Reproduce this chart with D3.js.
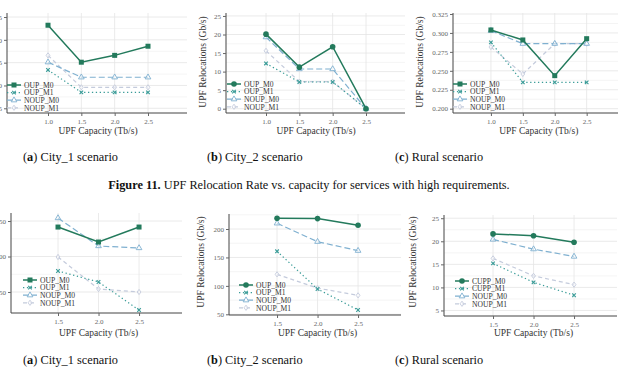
<!DOCTYPE html>
<html>
<head>
<meta charset="utf-8">
<title>UPF Relocation Rate vs. capacity</title>
<script src="https://d3js.org/d3.v7.min.js"></script>
<style>
  body { margin: 0; background: #fff; }
  svg { display: block; }
  text { font-family: "Liberation Serif", "DejaVu Serif", serif; }
  .tick-label { font-size: 7px; fill: #666; }
  .axis-title { font-size: 9.5px; fill: #333; }
  .legend-text { font-size: 7.6px; fill: #333; }
  .caption { font-size: 12.3px; fill: #111; }
</style>
</head>
<body>
<div id="chart"></div>
<script>
// ---- data ----
const capHigh = [1.0, 1.5, 2.0, 2.5];
const capLow = [1.5, 2.0, 2.5];
const namesOUP = ["OUP_M0", "OUP_M1", "NOUP_M0", "NOUP_M1"];
const namesCUPP = ["CUPP_M0", "CUPP_M1", "NOUP_M0", "NOUP_M1"];

// rows: M0 (OUP/CUPP), M1 (OUP/CUPP), NOUP_M0, NOUP_M1
const city1High = [[23.2, 15.1, 16.6, 18.6], [13.4, 8.5, 8.5, 8.5], [15.1, 11.8, 11.8, 11.8], [16.6, 9.6, 9.6, 9.6]];
const city2High = [[20.1, 11.2, 16.7, 0], [12.2, 7.2, 7.2, 0], [19.3, 10.7, 10.7, 0], [15.6, 7.3, 7.3, 0]];
const ruralHigh = [[0.3039, 0.2907, 0.2436, 0.2924], [0.2876, 0.2348, 0.2348, 0.2348], [0.303, 0.2858, 0.2858, 0.2858], [0.2814, 0.2458, 0.2858, 0.2858]];
const city1Low = [[141.5, 120.4, 141.5], [79.6, 64.1, 24.6], [154.2, 114.8, 112], [99.3, 54.2, 50]];
const city2Low = [[218.8, 218.3, 206.5], [160.8, 94.5, 57.6], [210, 177.7, 161.9], [120.3, 96, 83.4]];
const ruralLow = [[21.6, 21.2, 19.8], [15.2, 11.1, 8.3], [20.4, 18.3, 16.7], [16.3, 12.5, 10.6]];

const xTicksHigh = [1.0, 1.5, 2.0, 2.5];
const xTicksLow = [1.5, 2.0, 2.5];
const yTicksCity1High = [5, 10, 15, 20, 25];
const yTicksCity2High = [0, 5, 10, 15, 20, 25];
const yTicksRuralHigh = [0.200, 0.225, 0.250, 0.275, 0.300, 0.325];
const yTicksCity1Low = [50, 100, 150];
const yTicksCity2Low = [50, 100, 150, 200];
const yTicksRuralLow = [5, 10, 15, 20, 25];

const subCaptions = [["a", " City_1 scenario"], ["b", " City_2 scenario"], ["c", " Rural scenario"]];
const figCaption = ["Figure 11.", " UPF Relocation Rate vs. capacity for services with high requirements."];

// ---- styles ----
const colors = ["#237a5c", "#3a9c98", "#7fb0d0", "#c4cbdc"];
const dashes = [null, "1.3,2.6", "6,3", "4,3"];
const widths = [1.5, 1.2, 1.2, 1.2];

const W = 618, H = 376;
const svg = d3.select("#chart").append("svg").attr("width", W).attr("height", H);

const panels = [
  {data: city1High, names: namesOUP, xs: capHigh, xt: xTicksHigh, yt: yTicksCity1High, fmt: d3.format("d"),
   xr: [7, 187], xd: [0.385, 3.085], yr: [113, 13], yd: [3.97, 25.88], m0: "square",
   leg: [7, 85], ytitleX: -20, ytitleY: 62, xtitleY: 134},
  {data: city2High, names: namesOUP, xs: capHigh, xt: xTicksHigh, yt: yTicksCity2High, fmt: d3.format("d"),
   xr: [226, 405], xd: [0.4, 3.085], yr: [113, 13], yd: [-1.16, 25.8], m0: "circle",
   leg: [227, 84], ytitleX: 206, ytitleY: 62, xtitleY: 134},
  {data: ruralHigh, names: namesOUP, xs: capHigh, xt: xTicksHigh, yt: yTicksRuralHigh, fmt: d3.format(".3f"),
   xr: [453, 624], xd: [0.406, 3.085], yr: [113, 13], yd: [0.1943, 0.3263], m0: "square",
   leg: [453, 84], ytitleX: 423, ytitleY: 62, xtitleY: 134},
  {data: city1Low, names: namesOUP, xs: capLow, xt: xTicksLow, yt: yTicksCity1Low, fmt: d3.format("d"),
   xr: [11, 182], xd: [0.92, 3.03], yr: [313, 213], yd: [20.4, 161.3], m0: "square",
   leg: [23, 280], ytitleX: -20, ytitleY: 262, xtitleY: 336},
  {data: city2Low, names: namesOUP, xs: capLow, xt: xTicksLow, yt: yTicksCity2Low, fmt: d3.format("d"),
   xr: [229, 401], xd: [0.907, 3.03], yr: [315, 214], yd: [48.8, 226.4], m0: "circle",
   leg: [239, 285], ytitleX: 204, ytitleY: 262, xtitleY: 336},
  {data: ruralLow, names: namesCUPP, xs: capLow, xt: xTicksLow, yt: yTicksRuralLow, fmt: d3.format("d"),
   xr: [444, 617], xd: [0.895, 3.03], yr: [316, 215], yd: [3.8, 25.7], m0: "circle",
   leg: [455, 281], ytitleX: 416, ytitleY: 262, xtitleY: 336}
];

function drawMarker(g, type, cx, cy, color) {
  if (type === "square") {
    g.append("rect").attr("x", cx - 2.5).attr("y", cy - 2.5).attr("width", 5).attr("height", 5).attr("fill", color);
  } else if (type === "circle") {
    g.append("circle").attr("cx", cx).attr("cy", cy).attr("r", 2.8).attr("fill", color);
  } else if (type === "x") {
    g.append("path").attr("d", `M${cx - 1.8},${cy - 1.8}L${cx + 1.8},${cy + 1.8}M${cx - 1.8},${cy + 1.8}L${cx + 1.8},${cy - 1.8}`)
      .attr("stroke", color).attr("stroke-width", 1.1).attr("fill", "none");
  } else if (type === "triangle") {
    g.append("path").attr("d", d3.symbol(d3.symbolTriangle, 14)()).attr("transform", `translate(${cx},${cy})`)
      .attr("fill", "#fff").attr("fill-opacity", 0.5).attr("stroke", color).attr("stroke-width", 0.9);
  } else {
    g.append("path").attr("d", `M${cx},${cy - 2.6}L${cx + 1.9},${cy}L${cx},${cy + 2.6}L${cx - 1.9},${cy}Z`)
      .attr("fill", "#fff").attr("fill-opacity", 0.5).attr("stroke", color).attr("stroke-width", 0.9);
  }
}

panels.forEach(p => {
  const x = d3.scaleLinear().domain(p.xd).range(p.xr);
  const y = d3.scaleLinear().domain(p.yd).range(p.yr);
  const g = svg.append("g");
  const step = p.yt[1] - p.yt[0];

  // minor grid
  p.yt.forEach(t => {
    const v = t + step / 2;
    if (v < p.yd[1]) {
      g.append("line").attr("x1", p.xr[0]).attr("x2", p.xr[1]).attr("y1", y(v)).attr("y2", y(v))
        .attr("stroke", "#f1f1f1").attr("stroke-width", 0.8);
    }
  });
  // major grid
  g.selectAll(".hgrid").data(p.yt).enter().append("line")
    .attr("x1", p.xr[0]).attr("x2", p.xr[1]).attr("y1", d => y(d)).attr("y2", d => y(d))
    .attr("stroke", "#e4e4e4").attr("stroke-width", 0.8);
  g.selectAll(".vgrid").data(p.xt).enter().append("line")
    .attr("x1", d => x(d)).attr("x2", d => x(d)).attr("y1", p.yr[0]).attr("y2", p.yr[1])
    .attr("stroke", "#e4e4e4").attr("stroke-width", 0.8);

  // axes
  const yAxis = g.append("g").attr("transform", `translate(${p.xr[0]},0)`)
    .call(d3.axisLeft(y).tickValues(p.yt).tickFormat(p.fmt).tickSize(3).tickPadding(2));
  const xAxis = g.append("g").attr("transform", `translate(0,${p.yr[0]})`)
    .call(d3.axisBottom(x).tickValues(p.xt).tickFormat(d3.format(".1f")).tickSize(3).tickPadding(3));
  [yAxis, xAxis].forEach(a => {
    a.attr("font-family", null).attr("font-size", null);
    a.select(".domain").attr("stroke", "#444").attr("stroke-width", 1);
    a.selectAll(".tick line").attr("stroke", "#666");
    a.selectAll(".tick text").attr("class", "tick-label").attr("fill", null);
  });
  yAxis.select(".domain").attr("d", `M0,${p.yr[0]}V${p.yr[1]}`);
  xAxis.select(".domain").attr("d", `M${p.xr[0]},0H${p.xr[1]}`);

  // titles
  g.append("text").attr("class", "axis-title").attr("text-anchor", "middle")
    .attr("x", (x(p.xt[0]) + x(p.xt[p.xt.length - 1])) / 2).attr("y", p.xtitleY)
    .text("UPF Capacity (Tb/s)");
  g.append("text").attr("class", "axis-title").attr("text-anchor", "middle")
    .attr("transform", `translate(${p.ytitleX},${p.ytitleY}) rotate(-90)`)
    .text("UPF Relocations (Gb/s)");

  // series
  const markers = [p.m0, "x", "triangle", "diamond"];
  const line = d3.line().x((d, i) => x(p.xs[i])).y(d => y(d));
  const order = [3, 2, 1, 0];
  order.forEach(k => {
    g.append("path").datum(p.data[k]).attr("d", line).attr("fill", "none")
      .attr("stroke", colors[k]).attr("stroke-width", widths[k])
      .attr("stroke-dasharray", dashes[k]);
    p.data[k].forEach((v, i) => drawMarker(g, markers[k], x(p.xs[i]), y(v), colors[k]));
  });

  // legend
  p.names.forEach((n, k) => {
    const ly = p.leg[1] + k * 7.6;
    g.append("line").attr("x1", p.leg[0]).attr("x2", p.leg[0] + 14).attr("y1", ly).attr("y2", ly)
      .attr("stroke", colors[k]).attr("stroke-width", widths[k]).attr("stroke-dasharray", dashes[k]);
    drawMarker(g, markers[k], p.leg[0] + 7, ly, colors[k]);
    g.append("text").attr("class", "legend-text").attr("x", p.leg[0] + 17).attr("y", ly + 2.7).text(n);
  });
});

// captions
const capX = [23, 207, 395];
[161, 364].forEach(cy => {
  subCaptions.forEach((c, i) => {
    const t = svg.append("text").attr("class", "caption").attr("x", capX[i]).attr("y", cy);
    t.append("tspan").text("(");
    t.append("tspan").attr("font-weight", "bold").text(c[0]);
    t.append("tspan").text(")" + c[1]);
  });
});
const fc = svg.append("text").attr("class", "caption").attr("x", 309).attr("y", 189).attr("text-anchor", "middle");
fc.append("tspan").attr("font-weight", "bold").text(figCaption[0]);
fc.append("tspan").text(figCaption[1]);
</script>
</body>
</html>
